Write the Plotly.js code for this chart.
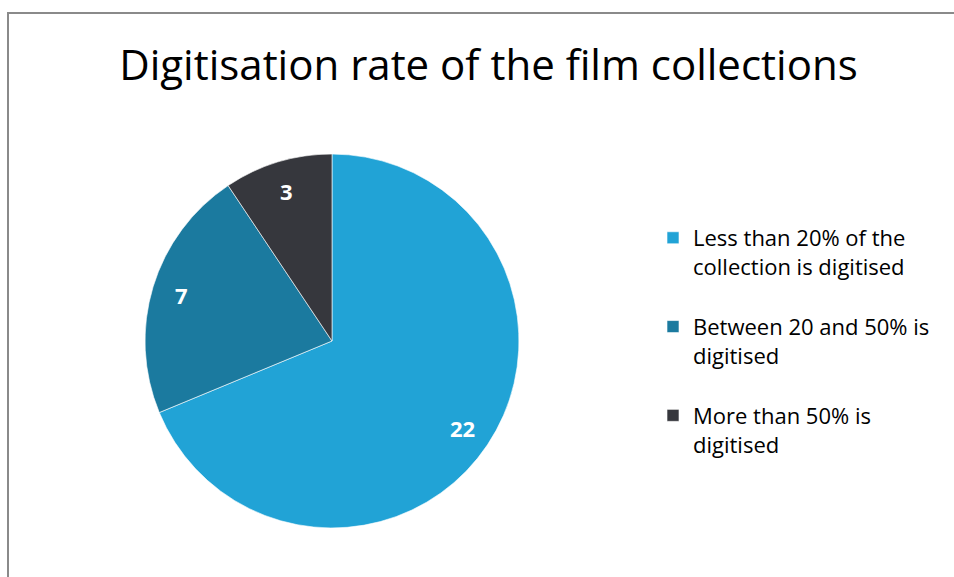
<!DOCTYPE html>
<html>
<head>
<meta charset="utf-8">
<script src="https://cdn.plot.ly/plotly-3.0.1.min.js"></script>
<style>
  html, body { margin: 0; padding: 0; background: #ffffff; }
  #wrap { position: relative; width: 954px; height: 577px; overflow: hidden; }
  #frame { position: absolute; left: 7px; top: 12px; width: 960px; height: 600px;
           border-left: 2px solid #8a8a8a; border-top: 2px solid #8a8a8a; box-sizing: border-box; }
  #chart { position: absolute; left: 0; top: 0; width: 954px; height: 577px; }
</style>
</head>
<body>
<div id="wrap">
  <div id="frame"></div>
  <div id="chart"></div>
</div>
<script>
const categories = [
  "Less than 20% of the<br>collection is digitised<br> ",
  "Between 20 and 50% is<br>digitised<br> ",
  "More than 50% is<br>digitised<br> "
];
const values = [22, 7, 3];
const colors = ["#21A3D6", "#1B7A9F", "#36373D"];

const fontFamily = "'Open Sans', 'Noto Sans', sans-serif";
const W = 954, H = 577;
const pieDomain = { x: [0.152, 0.544], y: [0.085, 0.733] };

// value labels placed near the outer part of each slice (as in the original)
const total = values.reduce((a, b) => a + b, 0);
const cxPx = (pieDomain.x[0] + pieDomain.x[1]) / 2 * W;
const cyPx = (1 - (pieDomain.y[0] + pieDomain.y[1]) / 2) * H;
const Rpx = Math.min((pieDomain.x[1] - pieDomain.x[0]) * W, (pieDomain.y[1] - pieDomain.y[0]) * H) / 2;
let cum = 0;
const labelAnnotations = values.map(v => {
  const mid = (cum + v / 2) / total * 2 * Math.PI;
  cum += v;
  const r = 0.84 * Rpx;
  const px = cxPx + r * Math.sin(mid);
  const py = cyPx - r * Math.cos(mid);
  return {
    xref: "paper", yref: "paper",
    x: px / W, y: 1 - py / H,
    xanchor: "center", yanchor: "middle",
    text: "<b>" + v + "</b>",
    showarrow: false,
    font: { family: fontFamily, size: 22, color: "#ffffff" }
  };
});

const data = [{
  type: "pie",
  labels: categories,
  values: values,
  sort: false,
  direction: "clockwise",
  rotation: 0,
  marker: { colors: colors, line: { color: "rgba(255,255,255,0.6)", width: 1 } },
  textinfo: "none",
  hoverinfo: "label+value",
  domain: pieDomain
}];

const layout = {
  width: W,
  height: H,
  margin: { l: 0, r: 0, t: 0, b: 0 },
  paper_bgcolor: "rgba(0,0,0,0)",
  plot_bgcolor: "rgba(0,0,0,0)",
  title: {
    text: "Digitisation rate of the film collections",
    font: { family: fontFamily, size: 42, color: "#000000" },
    x: 0.512, xanchor: "center",
    y: 0.887, yanchor: "middle"
  },
  annotations: labelAnnotations,
  showlegend: true,
  legend: {
    x: 0.6845, xanchor: "left",
    y: 0.624, yanchor: "top",
    valign: "top",
    font: { family: fontFamily, size: 22, color: "#000000" },
    bgcolor: "rgba(0,0,0,0)"
  }
};

Plotly.newPlot("chart", data, layout, { displayModeBar: false, staticPlot: true });
</script>
</body>
</html>
